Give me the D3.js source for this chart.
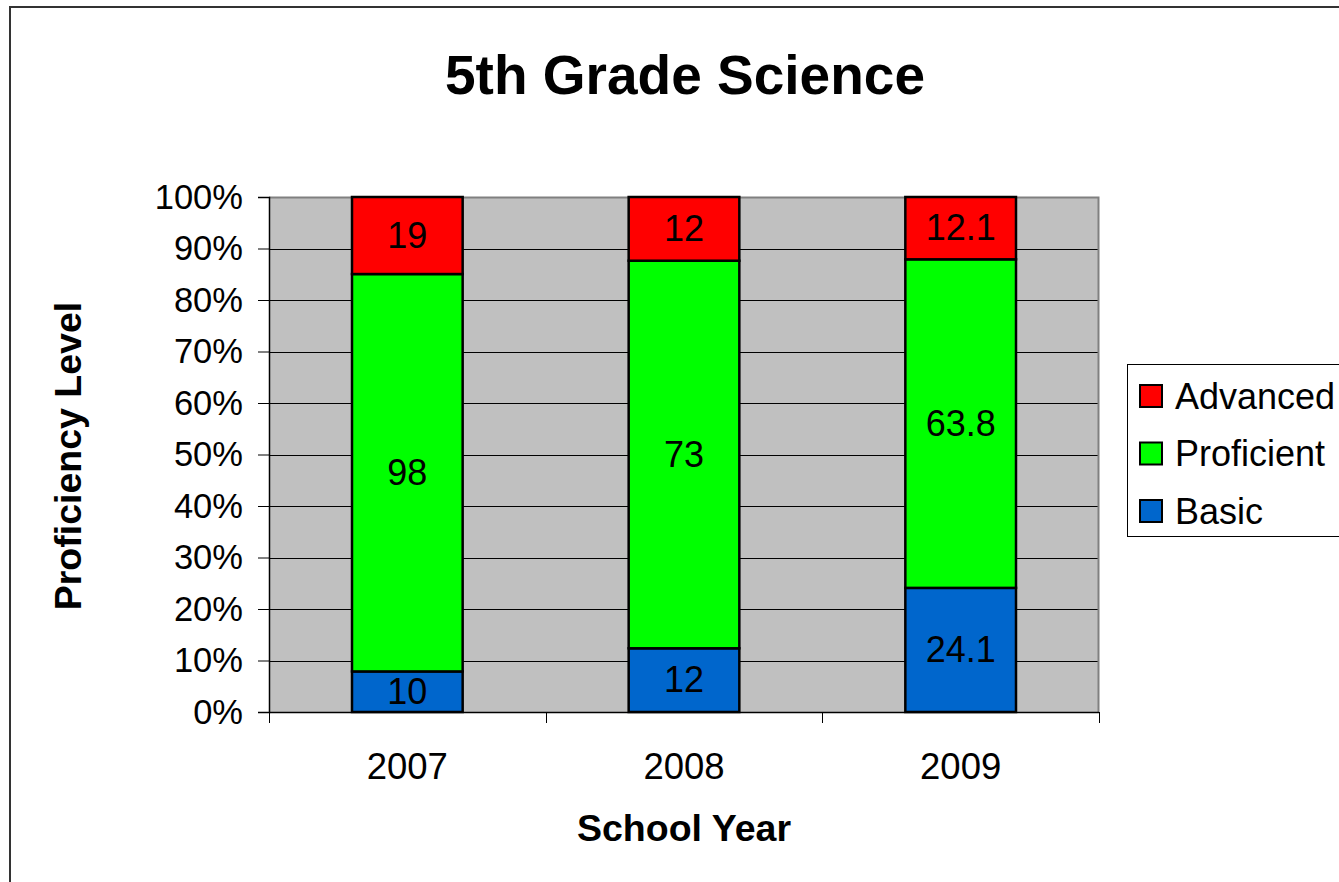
<!DOCTYPE html>
<html>
<head>
<meta charset="utf-8">
<script src="https://cdn.jsdelivr.net/npm/d3@7"></script>
<style>
  body { margin: 0; background: #fff; }
  svg text { font-family: "Liberation Sans", Arial, sans-serif; fill: #000; }
</style>
</head>
<body>
<div id="chart"></div>
<script>

var years = ["2007", "2008", "2009"]
var series = ["Basic", "Proficient", "Advanced"]
var basic = [10, 12, 24.1]
var proficient = [98, 73, 63.8]
var advanced = [19, 12, 12.1]
var yTicks = [0, 0.1, 0.2, 0.3, 0.4, 0.5, 0.6, 0.7, 0.8, 0.9, 1]

var colours = { Basic: "#0066cc", Proficient: "#00ff00", Advanced: "#ff0000" }

var width = 1339
var height = 882

var plot = { left: 269, right: 1099, top: 197, bottom: 712 }

var rows = years.map(function(y, i) {
	return { year: y, Basic: basic[i], Proficient: proficient[i], Advanced: advanced[i] }
})

var stacked = d3.stack()
	.keys(series)
	.offset(d3.stackOffsetExpand)(rows)

var svg = d3.select("#chart").append("svg")
	.attr("width", width)
	.attr("height", height)

// outer chart frame
svg.append("rect")
	.attr("x", 10)
	.attr("y", 7)
	.attr("width", 1400)
	.attr("height", 1000)
	.attr("fill", "#fff")
	.attr("stroke", "#333")
	.attr("stroke-width", 2)

var x = d3.scaleBand()
	.domain(years)
	.range([plot.left, plot.right])
	.paddingInner(0.6)
	.paddingOuter(0.3)

var y = d3.scaleLinear()
	.domain([0, 1])
	.range([plot.bottom, plot.top])

// plot background
svg.append("rect")
	.attr("x", plot.left)
	.attr("y", plot.top)
	.attr("width", plot.right - plot.left)
	.attr("height", plot.bottom - plot.top)
	.attr("fill", "#c0c0c0")

// gridlines
svg.append("g")
	.selectAll("line")
	.data(yTicks.filter(d => d > 0 && d < 1))
	.enter()
	.append("line")
	.attr("x1", plot.left)
	.attr("x2", plot.right)
	.attr("y1", d => Math.round(y(d)) + 0.5)
	.attr("y2", d => Math.round(y(d)) + 0.5)
	.attr("stroke", "#000")
	.attr("stroke-width", 1)

// plot border top/right
svg.append("path")
	.attr("d", `M${plot.left},${plot.top + 0.5}H${plot.right - 0.5}V${plot.bottom}`)
	.attr("fill", "none")
	.attr("stroke", "#808080")
	.attr("stroke-width", 2)

// bars
var layers = svg.append("g")
	.selectAll("g")
	.data(stacked)
	.enter()
	.append("g")
	.attr("fill", d => colours[d.key])

layers.selectAll("rect")
	.data(d => d)
	.enter()
	.append("rect")
	.attr("x", d => x(d.data.year))
	.attr("width", x.bandwidth())
	.attr("y", d => y(d[1]))
	.attr("height", d => y(d[0]) - y(d[1]))
	.attr("stroke", "#000")
	.attr("stroke-width", 2.5)

// data labels
layers.each(function(layer) {
	d3.select(this).selectAll("text")
		.data(layer)
		.enter()
		.append("text")
		.attr("x", d => x(d.data.year) + x.bandwidth() / 2)
		.attr("y", d => (y(d[0]) + y(d[1])) / 2)
		.attr("dy", "0.34em")
		.attr("text-anchor", "middle")
		.style("font-size", "36px")
		.text(d => d.data[layer.key])
})

// y axis
var yAxis = svg.append("g")
	.attr("transform", `translate(${plot.left},0)`)
	.call(d3.axisLeft(y).tickValues(yTicks).tickFormat(d3.format(".0%")).tickSize(11).tickPadding(15))

yAxis.select(".domain").attr("stroke", "#000").attr("stroke-width", 1.5)
yAxis.selectAll(".tick line").attr("stroke", "#000")
yAxis.selectAll(".tick text")
	.style("font-size", "34.5px")
	.style("font-family", "Liberation Sans, Arial, sans-serif")
	.attr("fill", "#000")

// x axis
var step = x.step()
var xAxis = svg.append("g")

xAxis.append("line")
	.attr("x1", plot.left)
	.attr("x2", plot.right)
	.attr("y1", plot.bottom + 0.5)
	.attr("y2", plot.bottom + 0.5)
	.attr("stroke", "#000")
	.attr("stroke-width", 1.5)

xAxis.selectAll(".xtick")
	.data(d3.range(years.length + 1))
	.enter()
	.append("line")
	.attr("class", "xtick")
	.attr("x1", i => Math.round(plot.left + i * step) + 0.5)
	.attr("x2", i => Math.round(plot.left + i * step) + 0.5)
	.attr("y1", plot.bottom)
	.attr("y2", plot.bottom + 11)
	.attr("stroke", "#000")

xAxis.selectAll(".xlabel")
	.data(years)
	.enter()
	.append("text")
	.attr("class", "xlabel")
	.attr("x", d => x(d) + x.bandwidth() / 2)
	.attr("y", 779)
	.attr("text-anchor", "middle")
	.style("font-size", "36.5px")
	.text(d => d)

// titles
svg.append("text")
	.attr("x", 685)
	.attr("y", 94)
	.attr("text-anchor", "middle")
	.style("font-size", "55px")
	.style("font-weight", "bold")
	.text("5th Grade Science")

svg.append("text")
	.attr("x", 684)
	.attr("y", 841)
	.attr("text-anchor", "middle")
	.style("font-size", "37.5px")
	.style("font-weight", "bold")
	.text("School Year")

svg.append("text")
	.attr("transform", "translate(81,456) rotate(-90)")
	.attr("text-anchor", "middle")
	.style("font-size", "37.5px")
	.style("font-weight", "bold")
	.text("Proficiency Level")

// legend
var legend = svg.append("g")

legend.append("rect")
	.attr("x", 1127.5)
	.attr("y", 364.5)
	.attr("width", 300)
	.attr("height", 172)
	.attr("fill", "#fff")
	.attr("stroke", "#000")
	.attr("stroke-width", 1)

var legendItems = legend.selectAll(".item")
	.data(series.slice().reverse())
	.enter()
	.append("g")
	.attr("class", "item")
	.attr("transform", (d, i) => `translate(1140,${396 + i * 57.5})`)

legendItems.append("rect")
	.attr("x", 0)
	.attr("y", -11)
	.attr("width", 22)
	.attr("height", 22)
	.attr("fill", d => colours[d])
	.attr("stroke", "#000")
	.attr("stroke-width", 2)

legendItems.append("text")
	.attr("x", 35)
	.attr("y", 0)
	.attr("dy", "0.36em")
	.style("font-size", "36px")
	.text(d => d)

</script>
</body>
</html>
